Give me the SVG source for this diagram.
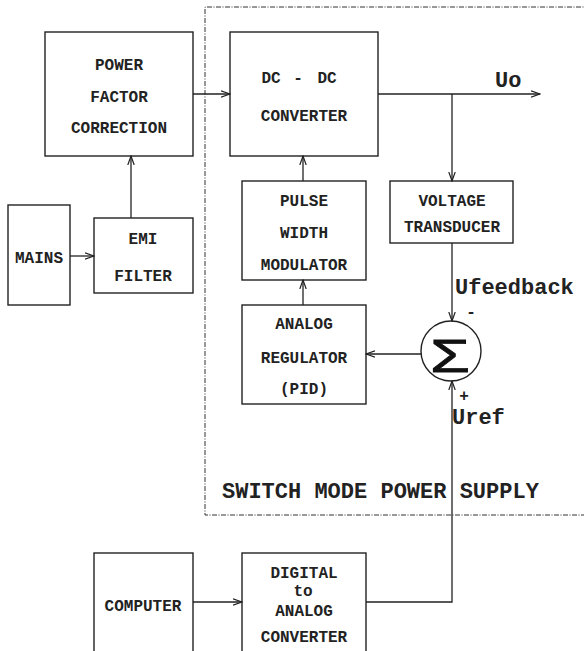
<svg xmlns="http://www.w3.org/2000/svg" width="584" height="651" viewBox="0 0 584 651">
<style>
.box{fill:none;stroke:#222;stroke-width:1.4}
.ln{fill:none;stroke:#222;stroke-width:1.3}
.t{font-family:"Liberation Mono","Courier New",monospace;font-weight:bold;font-size:16px;fill:#222;text-anchor:middle}
.b{font-family:"Liberation Mono","Courier New",monospace;font-weight:bold;font-size:22px;fill:#222}
</style>
<defs>
<marker id="ah" markerWidth="10" markerHeight="8" refX="9" refY="4" orient="auto" markerUnits="userSpaceOnUse">
<path d="M0,0.8 L9,4 L0,7.2" fill="none" stroke="#222" stroke-width="1.2"/>
</marker>
</defs>
<rect width="584" height="651" fill="#fff"/>
<g id="smps-boundary">
<path d="M590,7 H205 V515 H590" fill="none" stroke="#333" stroke-width="1" stroke-dasharray="5 1.5 1 1.5"/>
<text class="b" x="222" y="498">SWITCH MODE POWER SUPPLY</text>
</g>
<g id="connectors">
<line class="ln" x1="193" y1="94" x2="230" y2="94" marker-end="url(#ah)"/>
<line class="ln" x1="378" y1="94" x2="540" y2="94" marker-end="url(#ah)"/>
<line class="ln" x1="452" y1="94" x2="452" y2="181" marker-end="url(#ah)"/>
<line class="ln" x1="452" y1="243" x2="452" y2="321" marker-end="url(#ah)"/>
<line class="ln" x1="421" y1="354" x2="366" y2="354" marker-end="url(#ah)"/>
<line class="ln" x1="303" y1="305" x2="303" y2="280" marker-end="url(#ah)"/>
<line class="ln" x1="303" y1="181" x2="303" y2="156" marker-end="url(#ah)"/>
<line class="ln" x1="70" y1="256" x2="94" y2="256" marker-end="url(#ah)"/>
<line class="ln" x1="131" y1="218" x2="131" y2="156" marker-end="url(#ah)"/>
<line class="ln" x1="193" y1="602" x2="242" y2="602" marker-end="url(#ah)"/>
<polyline class="ln" points="366,602 452,602 452,381" marker-end="url(#ah)"/>
</g>
<g id="pfc">
<rect class="box" x="45" y="32" width="148" height="124"/>
<text class="t" x="119" y="70">POWER</text>
<text class="t" x="119" y="102">FACTOR</text>
<text class="t" x="119" y="133">CORRECTION</text>
</g>
<g id="dcdc">
<rect class="box" x="230" y="32" width="148" height="124"/>
<text class="t" x="271" y="83">DC</text>
<text class="t" x="298" y="83">-</text>
<text class="t" x="327" y="83">DC</text>
<text class="t" x="304" y="121">CONVERTER</text>
</g>
<g id="uo-label">
<text class="b" x="495" y="87" font-size="24">Uo</text>
</g>
<g id="pwm">
<rect class="box" x="242" y="181" width="124" height="99"/>
<text class="t" x="304" y="206">PULSE</text>
<text class="t" x="304" y="238">WIDTH</text>
<text class="t" x="304" y="270">MODULATOR</text>
</g>
<g id="regulator">
<rect class="box" x="242" y="305" width="124" height="99"/>
<text class="t" x="304" y="329">ANALOG</text>
<text class="t" x="304" y="363">REGULATOR</text>
<text class="t" x="304" y="394">(PID)</text>
</g>
<g id="transducer">
<rect class="box" x="390" y="181" width="123" height="62"/>
<text class="t" x="452" y="206">VOLTAGE</text>
<text class="t" x="452" y="232">TRANSDUCER</text>
</g>
<g id="sum">
<circle cx="451" cy="351" r="30" fill="none" stroke="#222" stroke-width="1.4"/>
<text x="430" y="372" font-family="Liberation Sans, Arial, sans-serif" font-size="47" fill="#111" stroke="#111" stroke-width="0.8" textLength="40" lengthAdjust="spacingAndGlyphs">Σ</text>
<text class="b" x="455" y="294">Ufeedback</text>
<text class="t" x="471" y="317" font-size="14">-</text>
<text class="t" x="464" y="401" font-size="14">+</text>
<text class="b" x="452" y="424">Uref</text>
</g>
<g id="mains">
<rect class="box" x="8" y="205" width="62" height="100"/>
<text class="t" x="39" y="263">MAINS</text>
</g>
<g id="emi">
<rect class="box" x="94" y="218" width="99" height="75"/>
<text class="t" x="143" y="244">EMI</text>
<text class="t" x="143" y="281">FILTER</text>
</g>
<g id="computer">
<rect class="box" x="94" y="553" width="99" height="110"/>
<text class="t" x="143" y="611">COMPUTER</text>
</g>
<g id="dac">
<rect class="box" x="242" y="553" width="124" height="110"/>
<text class="t" x="304" y="578">DIGITAL</text>
<text class="t" x="303" y="596" font-size="8">to</text>
<text class="t" x="304" y="616">ANALOG</text>
<text class="t" x="304" y="642">CONVERTER</text>
</g>
</svg>
